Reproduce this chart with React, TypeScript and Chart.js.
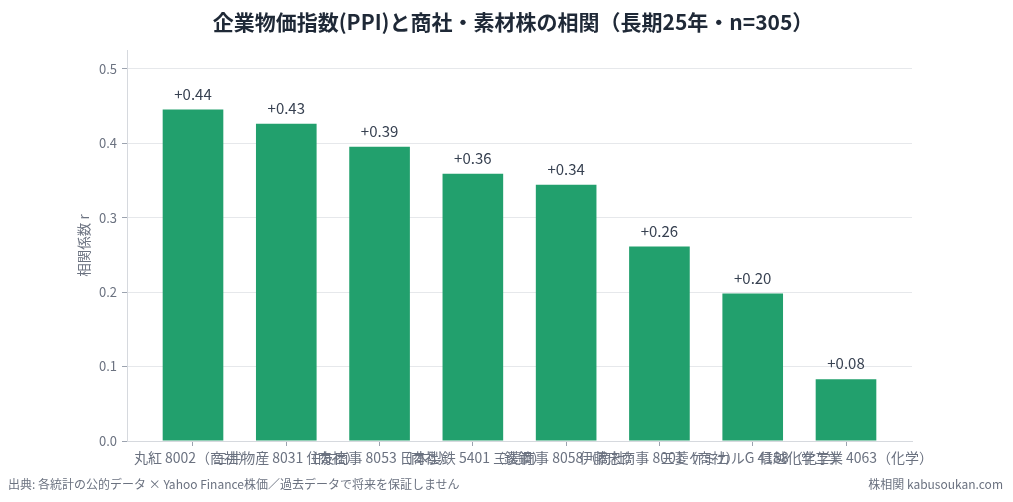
import React, { useEffect, useRef } from "react";
import { Chart, registerables } from "chart.js";

Chart.register(...registerables);

const companies = [
  "丸紅 8002（商社）",
  "三井物産 8031（商社）",
  "住友商事 8053（商社）",
  "日本製鉄 5401（鉄鋼）",
  "三菱商事 8058（商社）",
  "伊藤忠商事 8001（商社）",
  "三菱ケミカルG 4188（化学）",
  "信越化学工業 4063（化学）",
];
const correlations = [0.445, 0.426, 0.395, 0.359, 0.344, 0.261, 0.198, 0.083];
const valueLabels = ["+0.44", "+0.43", "+0.39", "+0.36", "+0.34", "+0.26", "+0.20", "+0.08"];
const yTicks = [0, 0.1, 0.2, 0.3, 0.4, 0.5];

const TITLE = "企業物価指数(PPI)と商社・素材株の相関（長期25年・n=305）";
const FONT = "'Noto Sans CJK JP', 'Noto Sans', sans-serif";
const BAR_COLOR = "#22a06d";
const GRID = "#e6e8eb";
const SPINE = "#d6d9de";
const TICK_TEXT = "#6b7280";

const valueLabelPlugin = {
  id: "valueLabels",
  afterDatasetsDraw(chart: any) {
    const ctx = chart.ctx;
    const meta = chart.getDatasetMeta(0);
    ctx.save();
    ctx.font = `15px ${FONT}`;
    ctx.fillStyle = "#374151";
    ctx.textAlign = "center";
    ctx.textBaseline = "alphabetic";
    meta.data.forEach((bar: any, i: number) => {
      ctx.fillText(valueLabels[i], bar.x, bar.y - 10);
    });
    ctx.restore();
  },
};

export default function App() {
  const canvasRef = useRef<HTMLCanvasElement | null>(null);

  useEffect(() => {
    if (!canvasRef.current) return;
    const n = companies.length;
    const bw = 0.65;
    const margin = (n - 1 + bw) * 0.05;
    const chart = new Chart(canvasRef.current, {
      type: "bar",
      data: {
        datasets: [
          {
            data: correlations.map((v, i) => ({ x: i, y: v })),
            backgroundColor: BAR_COLOR,
            borderWidth: 0,
            categoryPercentage: bw,
            barPercentage: 1.0,
          },
        ],
      },
      options: {
        animation: false,
        responsive: false,
        maintainAspectRatio: false,
        layout: { padding: { left: 68, right: 101, top: 50, bottom: 20 } },
        plugins: {
          legend: { display: false },
          tooltip: { enabled: false },
          title: { display: false },
        },
        scales: {
          x: {
            type: "linear",
            offset: false,
            min: -bw / 2 - margin,
            max: n - 1 + bw / 2 + margin,
            afterBuildTicks: (scale: any) => {
              scale.ticks = companies.map((_, i) => ({ value: i }));
            },
            afterFit: (scale: any) => {
              scale.height = 41;
            },
            grid: {
              offset: false,
              drawOnChartArea: false,
              drawTicks: true,
              tickLength: 5,
              tickColor: "#9ca3af",
            },
            border: { display: true, color: SPINE, width: 1 },
            ticks: {
              autoSkip: false,
              maxRotation: 0,
              minRotation: 0,
              padding: 3,
              color: TICK_TEXT,
              font: { family: FONT, size: 14 },
              callback: (v: any) => companies[v as number] ?? "",
            },
          },
          y: {
            min: 0,
            max: 0.525,
            afterBuildTicks: (scale: any) => {
              scale.ticks = yTicks.map((v) => ({ value: v }));
            },
            afterFit: (scale: any) => {
              scale.width = 59;
            },
            grid: {
              color: GRID,
              drawTicks: true,
              tickLength: 5,
              tickColor: "#9ca3af",
            },
            border: { display: true, color: SPINE, width: 1 },
            ticks: {
              padding: 5,
              color: TICK_TEXT,
              font: { family: FONT, size: 13 },
              callback: (v: any) => Number(v).toFixed(1),
            },
            title: {
              display: true,
              text: "相関係数 r",
              color: TICK_TEXT,
              font: { family: FONT, size: 13.5 },
              padding: { top: 8, bottom: 0 },
            },
          },
        },
      },
      plugins: [valueLabelPlugin],
    } as any);
    return () => chart.destroy();
  }, []);

  return (
    <div style={{ position: "fixed", left: 0, top: 0, width: 1013, height: 502, background: "#fff" }}>
      <canvas ref={canvasRef} width={1013} height={502} style={{ width: 1013, height: 502, display: "block" }} />
      <div
        style={{
          position: "absolute",
          left: 13,
          right: 0,
          top: 9,
          textAlign: "center",
          fontFamily: FONT,
          fontSize: 21,
          fontWeight: "bold",
          lineHeight: "25px",
          color: "#1f2937",
          whiteSpace: "nowrap",
        }}
      >
        {TITLE}
      </div>
      <div
        style={{
          position: "absolute",
          left: 8,
          top: 475,
          fontFamily: FONT,
          fontSize: 12,
          color: "#6b7280",
          whiteSpace: "nowrap",
        }}
      >
        出典: 各統計の公的データ × Yahoo Finance株価／過去データで将来を保証しません
      </div>
      <div
        style={{
          position: "absolute",
          right: 10,
          top: 475,
          fontFamily: FONT,
          fontSize: 12,
          color: "#6b7280",
          whiteSpace: "nowrap",
        }}
      >
        株相関 kabusoukan.com
      </div>
    </div>
  );
}
